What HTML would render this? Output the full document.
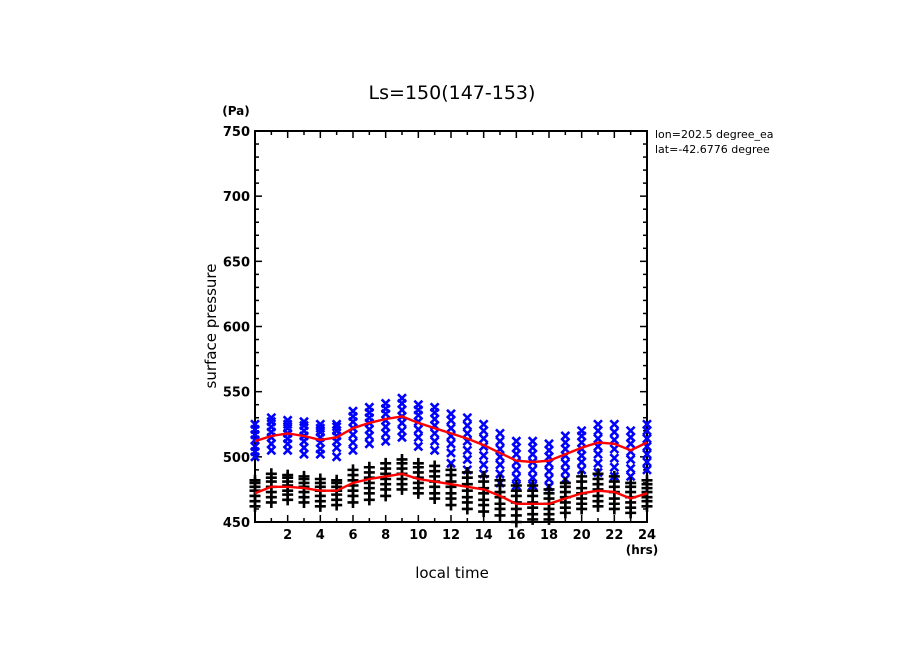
<!DOCTYPE html>
<html><head><meta charset="utf-8"><style>
html,body{margin:0;padding:0;background:#fff;}
svg{display:block;font-family:"DejaVu Sans","Liberation Sans",sans-serif;}
</style></head><body>
<svg id="chart" width="904" height="654" viewBox="0 0 904 654" xmlns="http://www.w3.org/2000/svg">
<text x="452" y="99" font-size="19" text-anchor="middle">Ls=150(147-153)</text>
<text x="236" y="115" font-size="12" font-weight="bold" text-anchor="middle">(Pa)</text>
<text x="642" y="554" font-size="12" font-weight="bold" text-anchor="middle">(hrs)</text>
<text x="0" y="0" font-size="15" text-anchor="middle" transform="translate(216,326) rotate(-90)">surface pressure</text>
<text x="452" y="578" font-size="15" text-anchor="middle">local time</text>
<text x="655" y="138" font-size="11">lon=202.5 degree_ea</text>
<text x="655" y="153" font-size="11">lat=-42.6776 degree</text>
<rect x="781" y="125" width="123" height="35" fill="#fff"/>
<g id="axes"></g>
<g id="marks"></g>
</svg>
<script>
const hours=[0,1,2,3,4,5,6,7,8,9,10,11,12,13,14,15,16,17,18,19,20,21,22,23,24];
const blueVals=[
[500,504,508,513,517,521,525],[505,510,515,519,523,527,530],[505,510,514,518,522,525,528],[502,507,512,516,520,524,527],[502,506,511,515,519,522,525],
[500,507,512,516,520,523,525],[505,511,517,522,527,531,535],[510,516,521,526,530,534,538],[512,518,523,528,533,537,541],[515,520,526,531,536,541,545],
[508,515,521,527,532,536,540],[505,512,518,524,529,534,538],[495,503,510,516,522,528,533],[490,498,505,512,518,524,530],[487,494,501,508,514,520,525],
[480,487,494,500,506,512,518],[478,484,490,496,502,507,512],[478,484,490,496,502,507,512],[477,483,489,495,500,505,510],[483,489,495,501,506,511,516],
[490,496,501,506,511,516,520],[488,495,502,508,514,520,525],[485,492,499,506,513,519,525],[485,491,498,504,510,515,520],[490,496,502,508,514,520,525]];
const blackVals=[
[462,466,470,474,477,480,482],[465,469,473,477,481,484,487],[467,471,474,478,481,484,486],[465,469,473,477,480,483,485],[462,466,470,474,477,480,483],
[463,467,471,474,477,480,482],[465,470,474,478,482,486,490],[467,472,476,480,484,488,492],[470,475,479,483,487,491,495],[475,479,483,487,491,495,498],
[472,476,480,484,488,492,495],[468,472,477,481,485,489,493],[463,468,472,477,481,486,490],[460,465,469,474,479,484,488],[458,463,467,472,476,481,485],
[455,460,464,469,473,478,482],[450,455,460,465,470,474,478],[452,456,461,465,470,474,478],[452,456,460,464,468,472,475],[457,461,465,469,473,477,480],
[460,464,468,472,476,481,485],[462,466,470,475,479,483,487],[460,464,468,473,477,481,485],[457,461,465,469,473,477,480],[462,466,469,473,476,479,482]];
const upperMean=[512,516,518,516,513,515,522,526,529,531,526,522,518,514,509,503,497,496,497,502,507,511,510,505,511];
const lowerMean=[472,477,477,476,474,474,480,483,485,487,483,481,479,477,475,470,464,464,464,468,472,474,473,468,472];
const xTicks=[2,4,6,8,10,12,14,16,18,20,22,24];
const yTicks=[450,500,550,600,650,700,750];
const X0=255,X1=647,Y0=522,Y1=131;
const sx=h=>X0+(h/24)*(X1-X0);
const sy=v=>Y0-(v-450)/300*(Y0-Y1);
const NS='http://www.w3.org/2000/svg';
function mk(t,a,p){const e=document.createElementNS(NS,t);for(const k in a)e.setAttribute(k,a[k]);p.appendChild(e);return e;}
const axes=document.getElementById('axes'),marks=document.getElementById('marks');
const frame=mk('rect',{x:X0,y:Y1,width:X1-X0,height:Y0-Y1,fill:'none',stroke:'#000','stroke-width':2},axes);


for(let h=1;h<24;h++){const L=h%2?4:7;
 mk('line',{x1:sx(h),y1:Y0,x2:sx(h),y2:Y0-L,stroke:'#000','stroke-width':1.5},axes);
 mk('line',{x1:sx(h),y1:Y1,x2:sx(h),y2:Y1+L,stroke:'#000','stroke-width':1.5},axes);}
for(let v=460;v<750;v+=10){const L=v%50?4:7;
 mk('line',{x1:X0,y1:sy(v),x2:X0+L,y2:sy(v),stroke:'#000','stroke-width':1.5},axes);
 mk('line',{x1:X1,y1:sy(v),x2:X1-L,y2:sy(v),stroke:'#000','stroke-width':1.5},axes);}
xTicks.forEach(t=>{const e=mk('text',{x:sx(t),y:539,'font-size':13,'font-weight':'bold','text-anchor':'middle'},axes);e.textContent=t;
 
 });
yTicks.forEach(t=>{const e=mk('text',{x:X0-5,y:sy(t)+5,'font-size':13,'font-weight':'bold','text-anchor':'end'},axes);e.textContent=t;
 
 });
hours.forEach((h,i)=>{
 blueVals[i].forEach(v=>{const x=sx(h),y=sy(v);
  const g=mk('path',{d:`M${x-4} ${y-4}L${x+4} ${y+4}M${x-4} ${y+4}L${x+4} ${y-4}`,stroke:'#0000ff','stroke-width':2.6},marks);
  
  });
 blackVals[i].forEach(v=>{const x=sx(h),y=sy(v);
  const g=mk('path',{d:`M${x-5.5} ${y}L${x+5.5} ${y}M${x} ${y-5.5}L${x} ${y+5.5}`,stroke:'#000','stroke-width':2.6},marks);
  
  });
});
[[upperMean,'upper-mean-line'],[lowerMean,'lower-mean-line']].forEach(([arr,nm])=>{
 const d=arr.map((v,i)=>(i?'L':'M')+sx(hours[i]).toFixed(1)+' '+sy(v).toFixed(1)).join('');
 const p=mk('path',{d:d,fill:'none',stroke:'#ff0000','stroke-width':2.4,'stroke-linejoin':'round'},marks);
 
 
});
</script>
</body></html>
